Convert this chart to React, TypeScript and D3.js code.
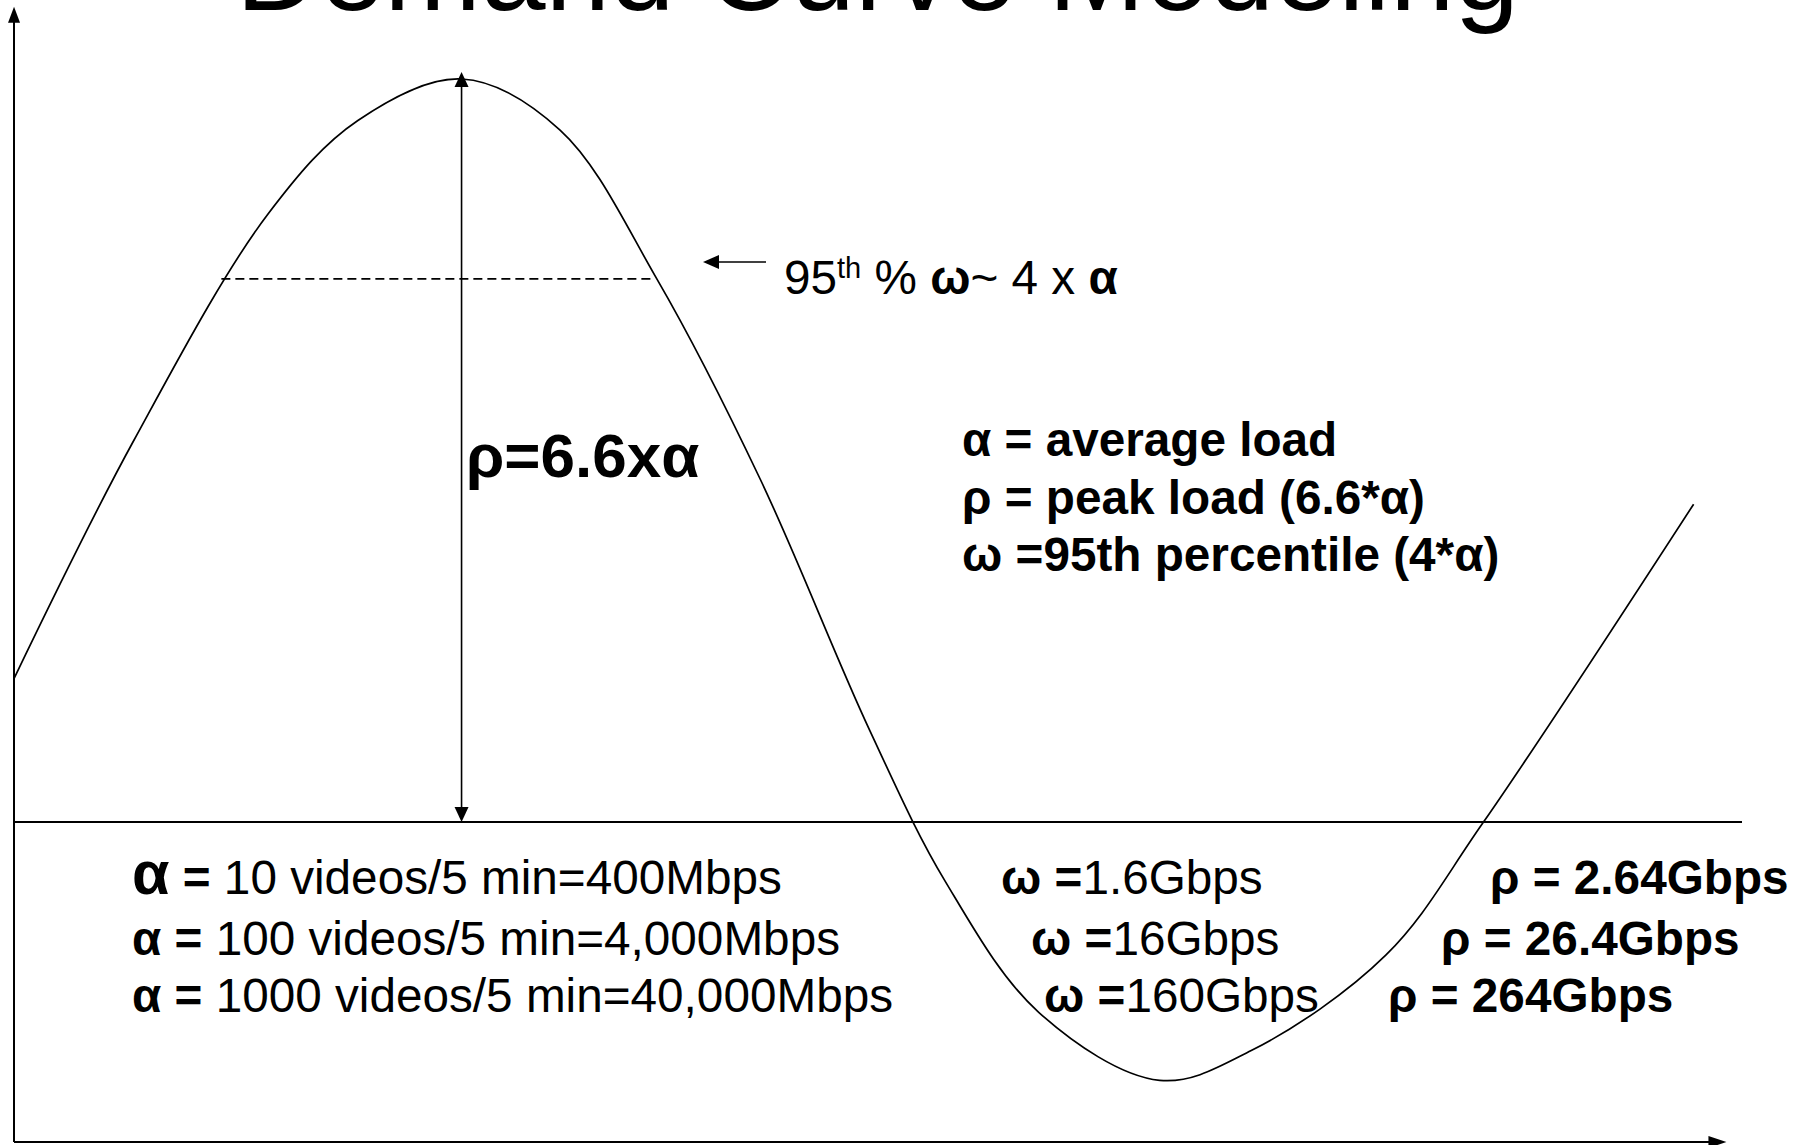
import React from 'react';
import * as d3 from 'd3';

// demand curve: time (0-100) vs load (0 = bottom axis, 100 = peak)
const demandTime = [0, 6.9, 14.7, 19.9, 25.9, 31.6, 37.2, 43.2, 49.5, 53.9, 59.3, 66.3, 71.6, 79.4, 85.0, 97.2];
const demandLoad = [43.6, 65.9, 87.3, 96.1, 100, 95.2, 81.2, 62.3, 38.8, 24.5, 12.2, 5.8, 8.6, 17.6, 30.0, 60.0];

const midLoad = 30.1;      // horizontal reference line
const p95Load = 81.2;      // dashed 95th percentile level
const p95Span = [12.0, 36.9];
const peakTime = 25.9;

const titleText = 'Demand Curve Modeling';
const legendRows = ['α = average load', 'ρ = peak load (6.6*α)', 'ω =95th percentile (4*α)'];
const averageRows = ['10 videos/5 min=400Mbps', '100 videos/5 min=4,000Mbps', '1000 videos/5 min=40,000Mbps'];
const percentileRows = ['1.6Gbps', '16Gbps', '160Gbps'];
const peakRows = ['2.64Gbps', '26.4Gbps', '264Gbps'];

const W = 1803;
const H = 1145;
const FONT = '"Liberation Sans", Arial, Helvetica, sans-serif';
const FS = 47.7;

const rowBase = [894, 955, 1012];
const omegaX = [1001, 1031, 1044];
const rhoX = [1490, 1441, 1388];

// triangle with its tip at (x, y), pointing along (dx, dy)
const head = (x: number, y: number, dx: number, dy: number, len: number, half: number) => {
  const bx = x - dx * len, by = y - dy * len;
  const px = -dy * half, py = dx * half;
  return `${x},${y} ${bx + px},${by + py} ${bx - px},${by - py}`;
};

export default function App() {
  const x = d3.scaleLinear().domain([0, 100]).range([14, 1742]);
  const y = d3.scaleLinear().domain([0, 100]).range([1142, 79]);

  const pts = demandTime.map((t, i) => [t, demandLoad[i]] as [number, number]);
  const line = d3.line<[number, number]>()
    .x(d => x(d[0]))
    .y(d => y(d[1]))
    .curve(d3.curveCatmullRom.alpha(0.5));

  const x0 = x(0);
  const yBottom = y(0);
  const yMid = y(midLoad);
  const yTopTip = y(106.8);
  const xRightTip = x(99.1);
  const xPeak = x(peakTime);
  const yPeak = y(100);
  const y95 = y(p95Load);

  return (
    <svg width={W} height={H} style={{ position: 'absolute', left: 0, top: 0, background: '#fff' }}
      fontFamily={FONT}>
      <rect width={W} height={H} fill="#fff" />

      <text x={236} y={10} fontSize={116} fill="#000">{titleText}</text>

      {/* axes */}
      <line x1={x0} y1={yBottom} x2={x0} y2={yTopTip + 14} stroke="#000" strokeWidth={2} />
      <polygon points={head(x0, yTopTip, 0, -1, 16, 6)} fill="#000" />
      <line x1={x0} y1={yBottom} x2={xRightTip - 14} y2={yBottom} stroke="#000" strokeWidth={2} />
      <polygon points={head(xRightTip, yBottom, 1, 0, 18, 6)} fill="#000" />

      {/* reference line */}
      <line x1={x0} y1={yMid} x2={x(100)} y2={yMid} stroke="#000" strokeWidth={2} />

      {/* 95th percentile dashed */}
      <line x1={x(p95Span[0])} y1={y95} x2={x(p95Span[1])} y2={y95} stroke="#000" strokeWidth={1.6}
        strokeDasharray="9,5" />

      {/* curve */}
      <path d={line(pts) || ''} fill="none" stroke="#000" strokeWidth={1.7} />

      {/* peak double arrow */}
      <line x1={xPeak} y1={yPeak - 7 + 12} x2={xPeak} y2={yMid - 14} stroke="#000" strokeWidth={1.6} />
      <polygon points={head(xPeak, yPeak - 7, 0, -1, 15, 7)} fill="#000" />
      <polygon points={head(xPeak, yMid, 0, 1, 15, 7)} fill="#000" />

      {/* 95th pointer */}
      <line x1={716} y1={262} x2={766} y2={262} stroke="#000" strokeWidth={1.6} />
      <polygon points={head(703, 262, -1, 0, 16, 7)} fill="#000" />
      <text x={784} y={294} fontSize={FS} style={{ whiteSpace: 'pre' }}>
        <tspan>95</tspan>
        <tspan fontSize={29} dy={-16}>th</tspan>
        <tspan dy={16}> % </tspan>
        <tspan fontWeight="bold">ω</tspan>
        <tspan>~ 4 x </tspan>
        <tspan fontWeight="bold">α</tspan>
      </text>

      <text x={466} y={477} fontSize={62} fontWeight="bold">ρ=6.6xα</text>

      {legendRows.map((t, i) => (
        <text key={t} x={962} y={456 + i * 57.5} fontSize={FS} fontWeight="bold" style={{ whiteSpace: 'pre' }}>{t}</text>
      ))}

      {averageRows.map((t, i) => (
        <text key={t} x={132} y={rowBase[i]} fontSize={FS} style={{ whiteSpace: 'pre' }}>
          <tspan fontWeight="bold" fontSize={i === 0 ? 61 : FS}>α</tspan>
          <tspan fontWeight="bold"> = </tspan>
          <tspan>{t}</tspan>
        </text>
      ))}

      {percentileRows.map((t, i) => (
        <text key={t} x={omegaX[i]} y={rowBase[i]} fontSize={FS} style={{ whiteSpace: 'pre' }}>
          <tspan fontWeight="bold">ω =</tspan>
          <tspan>{t}</tspan>
        </text>
      ))}

      {peakRows.map((t, i) => (
        <text key={t} x={rhoX[i]} y={rowBase[i]} fontSize={FS} fontWeight="bold" style={{ whiteSpace: 'pre' }}>
          {`ρ = ${t}`}
        </text>
      ))}
    </svg>
  );
}
